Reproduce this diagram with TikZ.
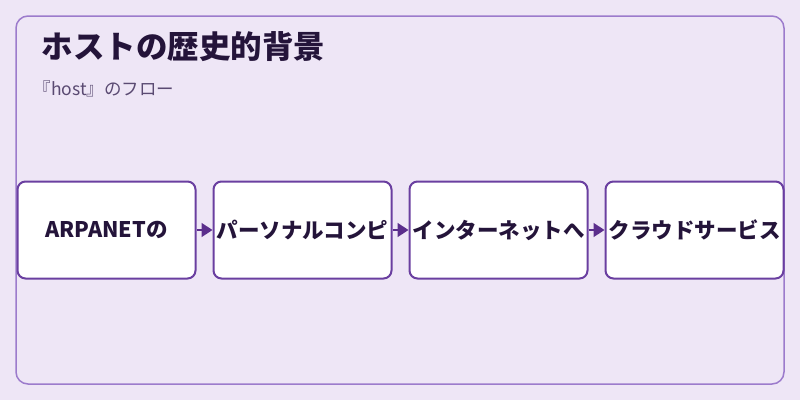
\documentclass[tikz,border=0pt]{standalone}
\usepackage{fontspec}
\setmainfont{Noto Sans CJK JP}
\usetikzlibrary{arrows.meta}
\definecolor{bg}{HTML}{EEE6F6}
\definecolor{frame}{HTML}{9C7BCC}
\definecolor{boxline}{HTML}{6A3FA0}
\definecolor{ttl}{HTML}{24143A}
\definecolor{sub}{HTML}{5A4A72}
\definecolor{arr}{HTML}{5B2E8C}
\tikzset{
  stepbox/.style={draw=boxline, line width=2pt, fill=white, rounded corners=8pt,
    minimum width=178pt, minimum height=97pt, inner sep=0pt,
    font=\bfseries\fontsize{21.5}{24}\selectfont, text=ttl},
  flow/.style={draw=arr, line width=1.5pt, -{Triangle[length=11pt,width=14pt]}, arr}
}
\begin{document}
\begin{tikzpicture}[x=1pt,y=-1pt]
\useasboundingbox (0,0) rectangle (800,400);
\fill[bg] (0,0) rectangle (800,400);
\draw[frame, line width=1.5pt, rounded corners=12pt] (16,16) rectangle (784,384);
\node[anchor=west, font=\bfseries\fontsize{31.5}{35}\selectfont, text=ttl] (title) at (38,47) {ホストの歴史的背景};
\node[anchor=west, font=\fontsize{17.5}{20}\selectfont, text=sub] (subt) at (30,89) {『host』のフロー};
\node[stepbox] (a) at (106.5,230) {ARPANETの};
\node[stepbox] (b) at (302.5,230) {パーソナルコンピ};
\node[stepbox] (c) at (498.5,230) {インターネットへ};
\node[stepbox] (d) at (694.5,230) {クラウドサービス};
\draw[flow] (a.east) -- (b.west);
\draw[flow] (b.east) -- (c.west);
\draw[flow] (c.east) -- (d.west);
\end{tikzpicture}
\end{document}
